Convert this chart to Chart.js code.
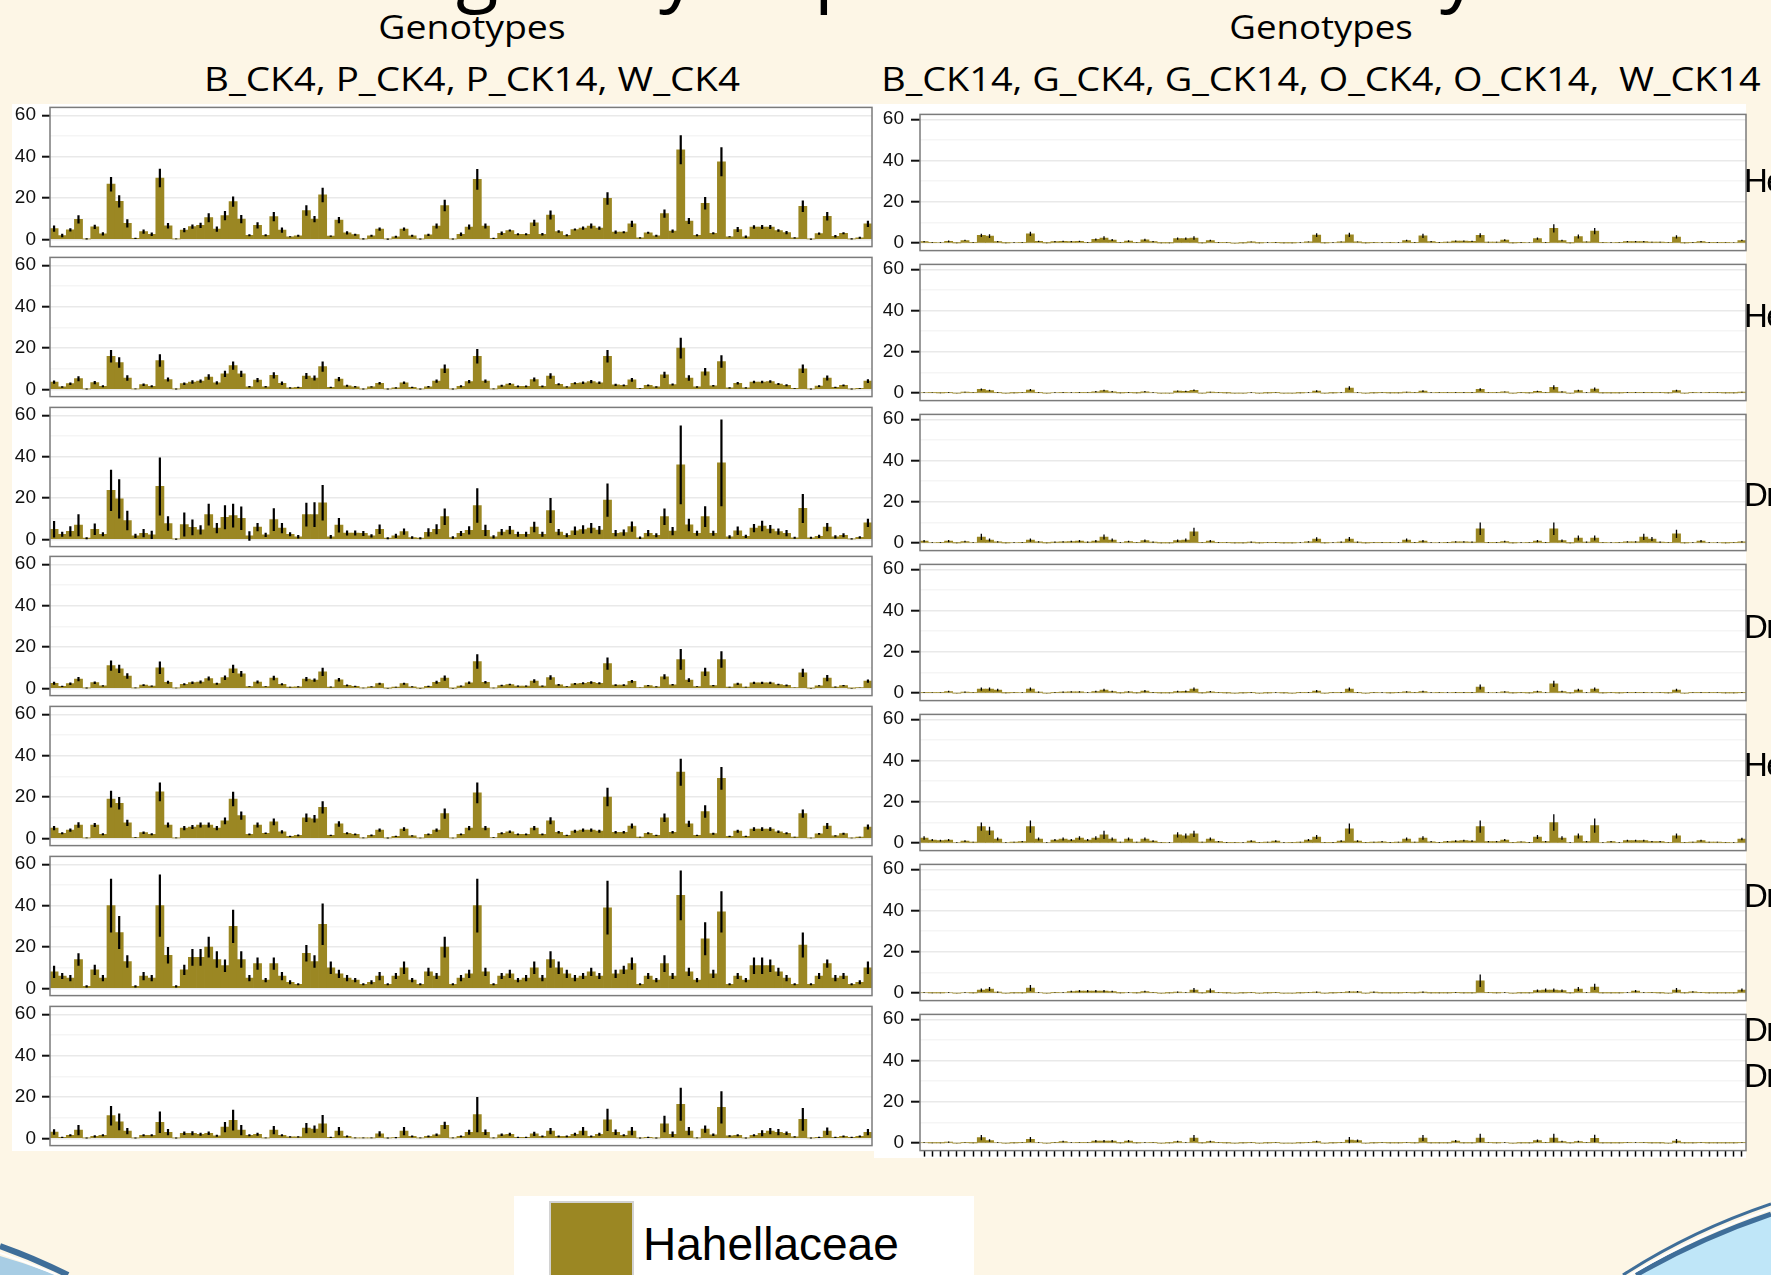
<!DOCTYPE html>
<html>
<head>
<meta charset="utf-8">
<script src="https://cdn.jsdelivr.net/npm/chart.js@4.4.1/dist/chart.umd.min.js"></script>
<style>
html, body { margin: 0; padding: 0; }
body { width: 1771px; height: 1275px; position: relative; overflow: hidden; background: #fdf6e6; font-family: "Liberation Sans", Arial, sans-serif; }
canvas { position: absolute; }
.sheet { position: absolute; background: #fff; }
.ttl { position: absolute; font-family: "Open Sans", sans-serif; font-size: 33px; line-height: 33px; white-space: pre; color: #000; transform-origin: 50% 50%; }
.big { position: absolute; top: -73px; font-family: "Open Sans", sans-serif; font-size: 78px; line-height: 78px; color: #000; }
.strip { position: absolute; left: 1744px; font-size: 33px; line-height: 34px; letter-spacing: -1.5px; color: #000; white-space: nowrap; }
#legend { position: absolute; left: 514px; top: 1196px; width: 460px; height: 90px; background: #fff; }
#swatch { position: absolute; left: 35px; top: 5px; width: 85px; height: 85px; box-sizing: border-box; border: 2px solid #d2d2d2; background: #9b8723; }
#legtext { position: absolute; left: 129px; top: 25px; font-size: 46px; line-height: 46px; color: #000; }
</style>
</head>
<body>

<svg width="1771" height="1275" style="position:absolute;left:0;top:0">
  <path d="M0,1256 Q28,1264 56,1275 L0,1275 Z" fill="#a8cde4"/>
  <path d="M0,1246 Q34,1258 68,1275" stroke="#3f6e99" stroke-width="6" fill="none"/>
  <path d="M0,1253 Q29,1263 57,1275" stroke="#ffffff" stroke-width="2" fill="none"/>
  <path d="M1636,1275 Q1700,1238 1771,1214 L1771,1275 Z" fill="#bfe6f8"/>
  <path d="M1636,1275 Q1700,1238 1771,1214" stroke="#3f6e99" stroke-width="5" fill="none"/>
  <path d="M1630,1275 Q1696,1235 1771,1209" stroke="#ffffff" stroke-width="2" fill="none"/>
  <path d="M1623,1275 Q1691,1231 1771,1204" stroke="#3f6e99" stroke-width="3" fill="none"/>
</svg>

<div class="big" style="left:456px">g</div>
<div class="big" style="left:659px">y</div>
<div class="big" style="left:814px">p</div>
<div class="big" style="left:1440px">y</div>

<div class="ttl" id="t1" style="left:472px;top:10px">Genotypes</div>
<div class="ttl" id="t2" style="left:472px;top:62px">B_CK4, P_CK4, P_CK14, W_CK4</div>
<div class="ttl" id="t3" style="left:1321px;top:10px">Genotypes</div>
<div class="ttl" id="t4" style="left:1321px;top:62px">B_CK14, G_CK4, G_CK14, O_CK4, O_CK14,  W_CK14</div>

<div class="sheet" style="left:12px;top:104px;width:862px;height:1047px"></div>
<div class="sheet" style="left:874px;top:104px;width:872px;height:1054px"></div>

<div id="legend"><div id="swatch"></div><div id="legtext">Hahellaceae</div></div>

<script>
// x categories (no labels are printed on the axes)
const samples = Array.from({ length: 101 }, (_, i) => 'S' + (i + 1));
const yTicks = [0, 10, 20, 30, 40, 50, 60];
const stripLabels = ['He', 'He', 'Dr', 'Dr', 'He', 'Dr', 'Dr', 'Dr'];

// left column: B_CK4, P_CK4, P_CK14, W_CK4
const leftValues1 = [
  5.2,1.9,4.6,9.7,0.3,6.1,2.7,26.7,18.4,7.8,
  0.5,3.8,2.5,29.7,6.6,0.3,4.5,6.2,6.8,10.5,
  5,11.5,18.3,9.8,2,6.8,2,11,4.5,1.3,
  1.8,14,9.8,21.5,1.6,9.3,3.2,2.3,0.3,1.8,
  5,0.2,1.3,5,1.8,0.2,2.2,6.5,16.4,0.2,
  2.5,6,29,6.5,0.5,3,4.3,2.5,2.5,8,
  2.5,11.8,3.8,2,4.8,5.5,6.5,5.5,19.8,3.5,
  3.5,7.5,0.8,3.2,1.8,12.5,4,43.3,8.9,2,
  17.5,3,37.5,1.3,4.8,1.3,6,6,6,4.3,
  3.3,0.8,16,0.2,2.8,11.2,1.5,3,0.3,0.8,
  7.5];
const leftErrors1 = [
  1.5,0.8,0.8,2,0.3,1,0.8,3.5,3,2,
  0.3,1,0.8,4.5,1.3,0.2,1,1,1.3,2.2,
  1.3,2.2,2.5,2,0.5,1.5,0.5,2.2,1.3,0.3,
  0.5,2.5,1.5,3.5,0.3,1.5,0.8,0.5,0.3,0.5,
  0.8,0.3,0.5,0.8,0.5,0.2,0.5,1.2,2.8,0.2,
  0.8,1.2,5,1.2,0.3,0.8,0.5,0.5,0.5,1.5,
  0.6,2.2,0.6,0.5,0.5,0.8,1.2,0.8,3,0.8,
  0.5,1.5,0.3,0.5,0.5,2,0.8,7,1.5,0.5,
  3,0.5,7,0.3,1.2,0.6,0.8,1,1,0.6,
  0.8,0.3,2.8,0.3,0.5,2,0.6,0.5,0.3,0.5,
  1.5];
const leftValues2 = [
  3.5,1.2,2.8,5.2,0.2,3.3,1.5,16,13,5.5,
  0.3,2.3,1.5,14,4.8,0.2,2.8,3.6,4,6,
  3.2,7.5,11.5,7.5,1.3,4.5,1.3,6.8,3,0.8,
  1,6.5,5.5,11,1,5,1.8,1.3,0.2,1.2,
  3,0.2,0.8,3.2,1,0.2,1.3,4,10,0.2,
  1.5,3.8,16,4,0.3,1.8,2.6,1.5,1.5,4.8,
  1.5,6.5,2.5,1.2,3,3.2,3.8,3.2,16,2.2,
  2,4.6,0.5,2,1.2,7,2.4,20,5.5,1.2,
  8.5,1.8,13.5,0.8,3,0.8,3.6,3.6,3.8,2.6,
  2,0.5,10,0.2,1.6,5.5,1,2,0.2,0.5,
  4];
const leftErrors2 = [
  0.8,0.4,0.6,1.2,0.2,0.8,0.5,3,2.5,1.3,
  0.2,0.6,0.5,3,1,0.2,0.6,0.8,0.8,1.3,
  0.8,1.5,2,1.5,0.4,1,0.4,1.5,0.8,0.3,
  0.3,1.5,1.2,2.5,0.3,1,0.5,0.4,0.2,0.3,
  0.6,0.2,0.3,0.6,0.3,0.2,0.4,0.8,2,0.2,
  0.5,0.8,3.5,0.8,0.2,0.5,0.5,0.4,0.4,1,
  0.4,1.3,0.5,0.3,0.5,0.6,0.8,0.6,3,0.5,
  0.4,0.9,0.2,0.4,0.4,1.5,0.5,5,1.3,0.4,
  1.8,0.4,3,0.3,0.6,0.3,0.6,0.6,0.6,0.5,
  0.5,0.2,2,0.2,0.4,1.2,0.3,0.4,0.2,0.2,
  0.9];
const leftValues3 = [
  4.9,2.5,3.9,6.9,0.6,4.9,2.5,23.7,19.6,9.1,
  1.7,3,2.2,25.6,7.7,0.2,7.2,5.8,4.6,12,
  5.5,10.7,11.5,10.2,1.7,6,2.2,9.6,5.5,2.5,
  1.3,12,12,17.7,1.3,6.9,3.1,3.1,2.9,1.7,
  4.9,0.6,1.7,3.8,0.9,0.6,3.4,4.9,11,0.9,
  2.9,4.4,16.4,4.4,1.2,3.5,4.5,2.5,2.5,6,
  2.5,14,3.5,2,4.2,4.8,5.5,4.5,19,3,
  3.3,6.2,0.8,3,2,11,4,36,7,3,
  11,3,37,1.2,4.2,1.5,5.5,6.5,5,3.8,
  3,0.8,15,0.8,1.5,6,1.2,2,0.3,1,
  8];
const leftErrors3 = [
  4,1.2,2.5,5.3,0.5,2.8,1,10,9.5,4.7,
  1,2,2,14,3.5,0.3,5.8,3.8,2.2,5.3,
  2.5,5.8,5.7,5.7,2.3,2,1,5.5,2.5,1,
  0.8,5.7,6,8.6,0.8,3.5,1.2,1.2,1.2,0.8,
  2.3,0.5,1,1.5,0.6,0.5,2,2.4,4,0.6,
  1.2,2,8.3,2.7,0.8,1.5,2,1.2,1.2,2.5,
  1.2,6,1.5,1,2,2,2.5,2,8,1.5,
  1.5,2.5,0.6,1.5,1,4,2,19,3,1.2,
  5,1.2,21,0.8,2,0.8,2,2.5,2,1.5,
  1.5,0.5,7,0.5,0.8,2,0.8,1,0.3,0.6,
  2];
const leftValues4 = [
  2.5,1,2.3,4.5,0.2,2.8,1.2,11,9.5,6,
  0.3,1.6,1.1,10,3,0.2,2,2.8,3.1,4.8,
  2.3,5.2,9.5,7,0.9,3.1,0.9,5,2,0.6,
  0.8,4.5,4,8,0.7,4.2,1.5,1,0.2,0.8,
  2.3,0.1,0.6,2.3,0.8,0.1,1,3,5,0.1,
  1.1,2.7,13,3,0.2,1.4,1.9,1.1,1.1,3.6,
  1.1,5.3,1.7,0.9,2.2,2.5,2.9,2.5,12,1.6,
  1.6,3.4,0.4,1.4,0.8,5.6,1.8,14,4,0.9,
  8,1.4,14,0.6,2.2,0.6,2.7,2.7,2.7,1.9,
  1.5,0.4,7.5,0.1,1.3,5,0.7,1.4,0.1,0.4,
  3.5];
const leftErrors4 = [
  0.7,0.3,0.6,1,0.2,0.6,0.3,2.5,2,1.3,
  0.2,0.4,0.3,3,0.7,0.1,0.5,0.6,0.7,1,
  0.5,1.1,2,1.4,0.2,0.7,0.2,1.1,0.5,0.2,
  0.2,1,0.8,2,0.2,0.9,0.4,0.3,0.1,0.2,
  0.5,0.1,0.2,0.5,0.2,0.1,0.3,0.7,1.3,0.1,
  0.3,0.6,3.5,0.6,0.1,0.4,0.4,0.3,0.3,0.8,
  0.3,1.1,0.4,0.2,0.4,0.5,0.6,0.5,3,0.4,
  0.4,0.7,0.1,0.3,0.2,1.2,0.4,5,0.9,0.2,
  2,0.3,4,0.2,0.5,0.2,0.5,0.5,0.5,0.4,
  0.4,0.1,2,0.1,0.3,1.5,0.2,0.3,0.1,0.1,
  0.8];
const leftValues5 = [
  5,2.5,4,6.5,0.3,6.5,2,19,17,7.5,
  0.4,2.8,2,22.5,6.5,0.3,5,5.5,6.5,6.5,
  5,8.5,19,11,2,6.5,2.5,8,3.2,1,
  1.5,10,9.5,15,1.5,7,2.5,2,0.3,1.5,
  4,0.2,1,4.5,1.2,0.2,2,4,12,0.2,
  2,5,22,5,0.4,2.5,3.2,2,2,5,
  2,8.5,3,1.5,3.5,4,4,3.5,20,3,
  3,6,0.6,2.5,1.5,10,3,32,7,1.5,
  13,2.3,29,1,3.5,1,4.5,4.5,4.5,3.2,
  2.5,0.6,12,0.2,2.2,6,1.2,2.3,0.2,0.6,
  5.5];
const leftErrors5 = [
  1,0.5,0.8,1.3,0.2,1,0.5,4,3,1.5,
  0.2,0.6,0.5,4.5,1.2,0.2,1,1,1.2,1.2,
  1,1.6,3.5,2,0.4,1.2,0.4,1.6,0.8,0.3,
  0.4,2,1.8,3,0.3,1.3,0.5,0.4,0.2,0.4,
  0.8,0.2,0.3,0.9,0.3,0.1,0.4,0.8,2.5,0.1,
  0.4,1,5,1,0.2,0.5,0.6,0.4,0.4,1,
  0.4,1.7,0.6,0.3,0.7,0.8,0.8,0.7,4.5,0.6,
  0.6,1.2,0.2,0.5,0.3,2,0.6,6.5,1.5,0.3,
  3,0.5,5.5,0.3,0.7,0.3,0.9,0.9,0.9,0.6,
  0.5,0.2,2,0.1,0.4,1.5,0.3,0.5,0.1,0.2,
  1.2];
const leftValues6 = [
  8,6,5,14,1,9,5,40,27,13,
  1,6,5,40,16,1,9,15,15,20,
  14,11,30,14,5,12,4,12,6,3,
  2,17,13,31,10,7,5,4,2,3,
  6,2,6,10,4,2,8,6,20,2,
  5,7,40,8,2,6,7,4,5,10,
  5,14,10,7,5,6,8,6,39,7,
  9,12,2,6,4,12,6,45,8,4,
  24,7,37,2,6,4,11,11,11,8,
  5,2,21,2,6,12,5,6,2,3,
  10];
const leftErrors6 = [
  3,1.5,1.5,3,0.5,2.5,1.5,13,8,3,
  0.5,2,1.5,15,4,0.5,2.5,4,4,5,
  4,3,8,4,1.5,3,1,3,2,1,
  0.5,4,3,10,3,2,1.5,1,0.5,1,
  2,0.5,1.5,3,1,0.5,2,1.5,5,0.5,
  1.5,2,13,2,0.5,1.5,2,1,1.5,3,
  1.5,4,3,2,1.5,1.5,2,1.5,13,2,
  2,3,0.5,1.5,1,4,1.5,12,2,1,
  8,2,10,0.5,1.5,1,4,4,3,2,
  1.5,0.5,6,0.5,1.5,2,1.5,1.5,0.5,1,
  3];
const leftValues7 = [
  3.1,0.5,1.5,4,0.2,1,1.5,11,8,3.5,
  0.2,1.5,1.5,7.8,3,0.2,2.5,2.5,2,2.5,
  1.3,5.5,8.8,4,1.5,2,0.3,4,1.5,0.8,
  0.8,5,4.5,7,0.5,3.5,1,0.3,0.3,0.3,
  2.2,0.2,0.4,3.5,1,0.3,1,1.8,6.3,0.3,
  1,3,11.5,3,0.3,1.8,2,0.5,0.5,2.2,
  1,3.5,1,1,2,3.5,1,2,9,3,
  1.5,3.5,0.2,0.5,0.2,7,2,16.5,3.5,0.3,
  4.5,1.8,15,1.2,1.5,0.2,1.5,2.5,3.5,3,
  2.5,0.8,9.2,0.2,0.5,3.5,0.5,1,0.5,1,
  3];
const leftErrors7 = [
  1.3,0.3,0.5,2.5,0.2,0.5,0.5,4.7,4,1.5,
  0.2,0.5,0.5,5.2,1.5,0.2,0.8,1,0.7,0.8,
  0.5,2.5,5,2.5,0.5,0.7,0.2,2,0.5,0.3,
  0.3,2.5,1.8,4.3,0.3,2,0.4,0.2,0.2,0.2,
  1.3,0.2,0.3,2,0.4,0.2,0.4,0.6,1.8,0.2,
  0.4,1.2,8.5,1.3,0.2,0.6,0.7,0.3,0.3,1,
  0.4,1.5,0.4,0.4,0.7,2,0.4,0.7,5.4,1.3,
  0.5,2,0.2,0.3,0.2,4,1.3,8,2,0.2,
  1.8,0.6,7.8,0.4,0.5,0.2,0.5,1.5,1.5,1.5,
  0.8,0.3,5.5,0.2,0.3,1.8,0.3,0.4,0.3,0.4,
  1.5];

// right column: B_CK14, G_CK4, G_CK14, O_CK4, O_CK14, W_CK14
const rightValues1 = [
  0.8,0.4,0.3,0.9,0.1,1.3,0.4,3.8,3.4,0.8,
  0.1,0.3,0.4,4.5,0.9,0.1,0.8,0.9,0.8,0.9,
  0.4,1.8,2.5,1.5,0.2,1,0.2,1.6,0.8,0.1,
  0.1,2.2,2.2,2.5,0.1,1.3,0.4,0.2,0,0.1,
  0.6,0.1,0.3,0.4,0.1,0.1,0.3,0.6,3.9,0.1,
  0.3,0.6,4,0.6,0.1,0.2,0.3,0.2,0.3,1.3,
  0.4,3.5,0.8,0.4,0.5,1,1,0.9,3.8,0.5,
  0.5,1.5,0.1,0.4,0.3,2.2,0.4,7.2,1.3,0.1,
  3.2,0.6,5.8,0.2,0.3,0.2,0.8,0.8,0.8,0.5,
  0.5,0.2,3,0.1,0.4,0.8,0.4,0.4,0.2,0.3,
  1.3];
const rightErrors1 = [
  0.3,0.2,0.2,0.4,0.1,0.3,0.2,0.8,0.9,0.3,
  0.1,0.2,0.2,1,0.3,0.1,0.3,0.3,0.3,0.3,
  0.2,0.5,0.8,0.5,0.1,0.4,0.1,0.5,0.3,0.1,
  0.1,0.5,0.5,0.8,0.1,0.4,0.2,0.1,0.1,0.1,
  0.2,0.1,0.2,0.2,0.1,0.1,0.2,0.2,0.9,0.1,
  0.2,0.2,1,0.2,0.1,0.1,0.2,0.1,0.2,0.4,
  0.2,1,0.3,0.2,0.2,0.3,0.3,0.3,1,0.2,
  0.2,0.4,0.1,0.2,0.1,0.6,0.2,2,0.4,0.1,
  1,0.2,1.5,0.1,0.2,0.1,0.3,0.3,0.3,0.2,
  0.2,0.1,0.8,0.1,0.2,0.3,0.2,0.2,0.1,0.1,
  0.3];
const rightValues2 = [
  0.3,0.2,0.1,0.4,0,0.5,0.2,1.8,1.3,0.4,
  0,0.1,0.2,1.5,0.4,0,0.3,0.4,0.3,0.4,
  0.2,0.7,1.3,0.7,0.1,0.4,0.1,0.7,0.3,0,
  0,1,0.9,1.4,0,0.5,0.2,0.1,0,0,
  0.3,0,0.1,0.2,0,0,0.1,0.3,1,0,
  0.1,0.3,2.5,0.3,0,0.1,0.2,0.1,0.1,0.5,
  0.2,1,0.3,0.2,0.2,0.4,0.4,0.4,1.8,0.2,
  0.2,0.6,0,0.2,0.1,0.9,0.2,2.8,0.6,0,
  1.2,0.3,2,0.1,0.1,0.1,0.4,0.4,0.4,0.2,
  0.2,0.1,1.2,0,0.2,0.3,0.2,0.2,0.1,0.1,
  0.5];
const rightErrors2 = [
  0.2,0.1,0.1,0.2,0.1,0.2,0.1,0.5,0.4,0.2,
  0.1,0.1,0.1,0.5,0.2,0.1,0.2,0.2,0.2,0.2,
  0.1,0.3,0.4,0.3,0.1,0.2,0.1,0.3,0.2,0.1,
  0.1,0.3,0.3,0.4,0.1,0.2,0.1,0.1,0.1,0.1,
  0.2,0.1,0.1,0.1,0.1,0.1,0.1,0.2,0.4,0.1,
  0.1,0.2,0.8,0.2,0.1,0.1,0.1,0.1,0.1,0.2,
  0.1,0.4,0.2,0.1,0.1,0.2,0.2,0.2,0.6,0.1,
  0.1,0.2,0.1,0.1,0.1,0.3,0.1,1,0.3,0.1,
  0.4,0.2,0.8,0.1,0.1,0.1,0.2,0.2,0.2,0.1,
  0.1,0.1,0.4,0.1,0.1,0.2,0.1,0.1,0.1,0.1,
  0.2];
const rightValues3 = [
  1,0.3,0.4,1,0.1,0.8,0.3,3,1.5,0.6,
  0.1,0.3,0.4,1.5,0.6,0.1,0.5,0.6,0.8,1,
  0.5,1,3,1.5,0.3,0.8,0.2,1.2,0.5,0.1,
  0.1,1.2,1.5,5.5,0.2,1,0.4,0.2,0.1,0.1,
  0.5,0.1,0.2,0.4,0.1,0.1,0.3,0.6,2,0.1,
  0.3,0.5,2,0.5,0.1,0.2,0.4,0.2,0.3,1.5,
  0.4,1,0.3,0.3,0.4,0.6,0.6,0.5,7,0.4,
  0.4,0.8,0.1,0.3,0.2,1,0.4,7,1.2,0.1,
  2.5,0.5,2.5,0.2,0.3,0.2,0.6,0.6,3,2,
  0.5,0.2,4.5,0.1,0.3,1,0.3,0.3,0.1,0.2,
  0.6];
const rightErrors3 = [
  0.5,0.2,0.2,0.5,0.1,0.4,0.2,1.5,0.7,0.3,
  0.1,0.2,0.2,0.8,0.3,0.1,0.3,0.3,0.4,0.5,
  0.3,0.5,1.2,0.7,0.2,0.4,0.1,0.6,0.3,0.1,
  0.1,0.6,0.7,2,0.1,0.5,0.2,0.1,0.1,0.1,
  0.3,0.1,0.1,0.2,0.1,0.1,0.2,0.3,0.9,0.1,
  0.2,0.3,1,0.3,0.1,0.1,0.2,0.1,0.2,0.7,
  0.2,0.5,0.2,0.2,0.2,0.3,0.3,0.3,3,0.2,
  0.2,0.4,0.1,0.2,0.1,0.5,0.2,3,0.6,0.1,
  1.2,0.3,1.2,0.1,0.2,0.1,0.3,0.3,1.5,1,
  0.3,0.1,2,0.1,0.2,0.5,0.2,0.2,0.1,0.1,
  0.3];
const rightValues4 = [
  0.4,0.2,0.2,0.8,0,0.5,0.2,2,2,1.5,
  0.1,0.2,0.3,2,0.5,0,0.4,0.5,0.6,0.6,
  0.3,0.8,1.5,0.8,0.1,0.6,0.1,1,0.4,0.1,
  0.1,0.8,0.9,2,0.1,0.7,0.2,0.1,0,0.1,
  0.4,0,0.1,0.3,0.1,0,0.2,0.4,1,0,
  0.2,0.4,2,0.4,0,0.2,0.3,0.1,0.2,0.6,
  0.2,0.8,0.3,0.2,0.3,0.4,0.4,0.4,3,0.3,
  0.3,0.6,0.1,0.2,0.1,0.8,0.3,4.5,0.8,0.1,
  1.5,0.3,2,0.1,0.2,0.1,0.4,0.4,0.4,0.3,
  0.2,0.1,1.5,0,0.2,0.4,0.2,0.2,0.1,0.1,
  0.4];
const rightErrors4 = [
  0.2,0.1,0.1,0.4,0.1,0.3,0.1,0.8,0.8,0.6,
  0.1,0.1,0.2,0.8,0.3,0.1,0.2,0.3,0.3,0.3,
  0.2,0.4,0.6,0.4,0.1,0.3,0.1,0.5,0.2,0.1,
  0.1,0.4,0.4,0.8,0.1,0.3,0.1,0.1,0.1,0.1,
  0.2,0.1,0.1,0.2,0.1,0.1,0.1,0.2,0.5,0.1,
  0.1,0.2,0.8,0.2,0.1,0.1,0.2,0.1,0.1,0.3,
  0.1,0.4,0.2,0.1,0.2,0.2,0.2,0.2,1.2,0.2,
  0.2,0.3,0.1,0.1,0.1,0.4,0.2,1.5,0.4,0.1,
  0.6,0.2,0.8,0.1,0.1,0.1,0.2,0.2,0.2,0.2,
  0.1,0.1,0.6,0.1,0.1,0.2,0.1,0.1,0.1,0.1,
  0.2];
const rightValues5 = [
  2.5,1.5,1.2,1.5,0.3,1,0.5,8,6,2,
  0.3,0.5,0.8,8,2,0.3,1.5,2,1.5,2.5,
  1.5,2.5,4,2,0.5,2,0.5,2,1,0.2,
  0.3,4,3.5,4.5,0.5,2,0.8,0.4,0.2,0.3,
  1,0.2,0.5,1,0.3,0.2,0.5,1.5,3,0.2,
  0.4,1,7,1,0.2,0.5,0.7,0.4,0.5,2,
  0.5,2.5,0.7,0.4,0.8,1,1.2,1,8,0.8,
  0.8,1.5,0.2,0.6,0.4,3,0.8,10,2.5,0.3,
  3.5,0.8,8.5,0.3,0.8,0.3,1.2,1.2,1.2,0.8,
  0.8,0.2,3.5,0.2,0.5,1.2,0.5,0.5,0.2,0.3,
  2];
const rightErrors5 = [
  0.8,0.5,0.4,0.5,0.2,0.4,0.2,2,2,0.7,
  0.2,0.2,0.3,3,0.7,0.2,0.5,0.7,0.5,0.8,
  0.5,0.8,2,0.7,0.2,0.7,0.2,0.7,0.4,0.1,
  0.2,1.3,1.2,1.5,0.2,0.7,0.3,0.2,0.1,0.2,
  0.4,0.1,0.2,0.4,0.2,0.1,0.2,0.5,1,0.1,
  0.2,0.4,2.5,0.4,0.1,0.2,0.3,0.2,0.2,0.7,
  0.2,0.8,0.3,0.2,0.3,0.4,0.4,0.4,3,0.3,
  0.3,0.5,0.1,0.2,0.2,1,0.3,4,0.8,0.2,
  1.2,0.3,3.5,0.2,0.3,0.2,0.4,0.4,0.4,0.3,
  0.3,0.1,1.2,0.1,0.2,0.4,0.2,0.2,0.1,0.2,
  0.6];
const rightValues6 = [
  0.3,0.1,0.1,0.3,0,0.3,0.1,1.5,2,0.5,
  0,0.1,0.1,2.5,0.3,0,0.2,0.3,0.8,1,
  1,1,1,0.8,0.1,0.3,0.1,0.8,0.2,0,
  0.1,0.5,0.3,1.5,0.1,1.2,0.2,0.1,0,0.1,
  0.2,0,0.1,0.2,0,0,0.1,0.2,0.5,0,
  0.1,0.2,0.6,0.7,0,0.5,0.1,0.1,0.1,0.2,
  0.1,0.5,0.1,0.1,0.1,0.4,0.1,0.1,6,0.2,
  0.1,0.3,0,0.1,0.1,1.2,1.5,1.5,1.2,0.1,
  2,0.3,3,0.1,0.1,0.1,0.3,1,0.3,0.2,
  0.1,0,1.5,0.1,0.6,0.2,0.1,0.1,0.1,0.1,
  1.5];
const rightErrors6 = [
  0.2,0.1,0.1,0.2,0.1,0.2,0.1,0.8,1,0.3,
  0.1,0.1,0.1,1.5,0.2,0.1,0.1,0.2,0.4,0.5,
  0.5,0.5,0.5,0.4,0.1,0.2,0.1,0.4,0.1,0.1,
  0.1,0.3,0.2,1,0.1,1,0.1,0.1,0.1,0.1,
  0.1,0.1,0.1,0.1,0.1,0.1,0.1,0.1,0.3,0.1,
  0.1,0.1,0.3,0.4,0.1,0.3,0.1,0.1,0.1,0.1,
  0.1,0.3,0.1,0.1,0.1,0.2,0.1,0.1,3,0.1,
  0.1,0.2,0.1,0.1,0.1,0.6,0.8,0.8,0.6,0.1,
  1,0.2,1.5,0.1,0.1,0.1,0.2,0.5,0.2,0.1,
  0.1,0.1,1,0.1,0.3,0.1,0.1,0.1,0.1,0.1,
  0.7];
const rightValues7 = [
  0.3,0.1,0.1,0.5,0,0.2,0.1,2.7,1.3,0.3,
  0,0.1,0.2,1.8,0.3,0,0.2,0.8,0.3,0.2,
  0.2,1,1,1,0.1,1,0.1,0.3,0.2,0,
  0.1,0.8,0.3,2.5,0.1,0.8,0.2,0.1,0,0.1,
  0.2,0,0.1,0.2,0,0,0.1,0.2,0.8,0,
  0.1,0.2,1.5,1.2,0,0.1,0.2,0.1,0.1,0.2,
  0.1,2.5,0.1,0.1,0.1,1,0.1,0.1,2.5,0.2,
  0.1,0.3,0,0.1,0.1,1.2,0.2,2.5,0.8,0.1,
  0.8,0.2,2.3,0.1,0.1,0.1,0.2,0.3,0.2,0.1,
  0.1,0,1,0.1,0.1,0.2,0.1,0.1,0.1,0.1,
  0.2];
const rightErrors7 = [
  0.2,0.1,0.1,0.3,0.1,0.1,0.1,1.3,0.6,0.2,
  0.1,0.1,0.1,1.2,0.2,0.1,0.1,0.4,0.2,0.1,
  0.1,0.5,0.5,0.5,0.1,0.5,0.1,0.2,0.1,0.1,
  0.1,0.4,0.2,1.5,0.1,0.4,0.1,0.1,0.1,0.1,
  0.1,0.1,0.1,0.1,0.1,0.1,0.1,0.1,0.4,0.1,
  0.1,0.1,1.5,0.6,0.1,0.1,0.1,0.1,0.1,0.1,
  0.1,1.5,0.1,0.1,0.1,0.5,0.1,0.1,2,0.1,
  0.1,0.2,0.1,0.1,0.1,0.6,0.1,2,0.4,0.1,
  0.4,0.1,1.8,0.1,0.1,0.1,0.1,0.2,0.1,0.1,
  0.1,0.1,1,0.1,0.1,0.1,0.1,0.1,0.1,0.1,
  0.1];

const leftRows = [
  [leftValues1, leftErrors1], [leftValues2, leftErrors2], [leftValues3, leftErrors3],
  [leftValues4, leftErrors4], [leftValues5, leftErrors5], [leftValues6, leftErrors6],
  [leftValues7, leftErrors7]
];
const rightRows = [
  [rightValues1, rightErrors1], [rightValues2, rightErrors2], [rightValues3, rightErrors3],
  [rightValues4, rightErrors4], [rightValues5, rightErrors5], [rightValues6, rightErrors6],
  [rightValues7, rightErrors7]
];

// error bars: vertical black lines, value +/- error, through the y scale
const errorBars = {
  id: 'errorBars',
  afterDatasetsDraw(chart, args, opts) {
    const { ctx, chartArea: a } = chart;
    const yScale = chart.scales.y;
    const ds = chart.data.datasets[0];
    const meta = chart.getDatasetMeta(0);
    ctx.save();
    ctx.beginPath();
    ctx.rect(a.left, a.top, a.width, a.height);
    ctx.clip();
    ctx.strokeStyle = opts.color;
    ctx.lineWidth = opts.width;
    meta.data.forEach((bar, i) => {
      const v = ds.data[i], e = ds.errors[i];
      ctx.beginPath();
      ctx.moveTo(bar.x, yScale.getPixelForValue(v - e));
      ctx.lineTo(bar.x, yScale.getPixelForValue(v + e));
      ctx.stroke();
    });
    ctx.restore();
  }
};

// grey box round each panel
const panelFrame = {
  id: 'panelFrame',
  afterDraw(chart, args, opts) {
    const { ctx, chartArea: a } = chart;
    ctx.save();
    ctx.strokeStyle = opts.color;
    ctx.lineWidth = opts.width;
    ctx.strokeRect(a.left, a.top, a.width, a.height);
    ctx.restore();
  }
};

function makePanel(canvas, values, errors, side) {
  const isLeft = side.left;
  const xScale = side.bottomTicks ? {
    display: true,
    offset: true,
    border: { display: false },
    grid: { display: true, drawOnChartArea: false, drawTicks: true, offset: false, tickLength: 6, tickWidth: 1.5, tickColor: '#000' },
    ticks: { display: false },
    afterFit(axis) { axis.height = 8; }
  } : { display: false };

  return new Chart(canvas, {
    type: 'bar',
    data: {
      labels: samples,
      datasets: [{
        label: 'Hahellaceae',
        data: values,
        errors: errors,
        backgroundColor: '#9b8723',
        borderWidth: 0,
        barPercentage: 1,
        categoryPercentage: 1
      }]
    },
    options: {
      responsive: false,
      animation: false,
      events: [],
      layout: { padding: { top: 16, bottom: side.bottomTicks ? 8 : 16, left: 0, right: 4 } },
      plugins: {
        legend: { display: false },
        tooltip: { enabled: false },
        errorBars: { color: '#000', width: isLeft ? 2.2 : 1.3 },
        panelFrame: { color: '#7b7b7b', width: 1.5 }
      },
      scales: {
        x: xScale,
        y: {
          min: isLeft ? -3.46 : -3.6,
          max: isLeft ? 63.79 : 62.34,
          border: { display: false },
          afterBuildTicks(axis) { axis.ticks = yTicks.map(v => ({ value: v })); },
          afterFit(axis) { axis.width = 50; },
          grid: {
            color: c => (c.tick && c.tick.value % 20 === 0) ? '#e9e9e9' : '#f5f5f5',
            lineWidth: 1.4,
            tickLength: isLeft ? 8 : 9,
            tickWidth: 2,
            tickColor: c => (c.tick && c.tick.value % 20 === 0) ? '#111' : 'rgba(0,0,0,0)'
          },
          ticks: {
            autoSkip: false,
            padding: isLeft ? 6 : 7,
            color: '#111',
            font: { family: 'Liberation Sans', size: 19 },
            callback: v => (v % 20 === 0 ? v : '')
          }
        }
      }
    },
    plugins: [errorBars, panelFrame]
  });
}

leftRows.forEach((row, k) => {
  const c = document.createElement('canvas');
  c.width = 876; c.height = 174;
  c.style.left = '0px';
  c.style.top = (Math.round(106 + 149.8 * k) - 16) + 'px';
  document.body.appendChild(c);
  makePanel(c, row[0], row[1], { left: true, bottomTicks: false });
});

rightRows.forEach((row, k) => {
  const c = document.createElement('canvas');
  c.width = 880; c.height = 173;
  c.style.left = '870px';
  c.style.top = (Math.round(111.7 + 150 * k) - 16) + 'px';
  document.body.appendChild(c);
  makePanel(c, row[0], row[1], { left: false, bottomTicks: k === rightRows.length - 1 });
});

// facet strip text, cut off by the page edge
const stripBaselines = [193, 328, 507, 639, 777, 908, 1042, 1088];
stripLabels.forEach((txt, i) => {
  const d = document.createElement('div');
  d.className = 'strip';
  d.textContent = txt;
  d.style.top = (stripBaselines[i] - 29) + 'px';
  document.body.appendChild(d);
});

// stretch the titles to the widths they take on the slide
function fitTitle(id, width) {
  const el = document.getElementById(id);
  const s = width / el.offsetWidth;
  el.style.transform = 'translateX(-50%) scaleX(' + s + ')';
}
fitTitle('t1', 187);
fitTitle('t2', 536);
fitTitle('t3', 183);
fitTitle('t4', 880);
</script>
</body>
</html>
